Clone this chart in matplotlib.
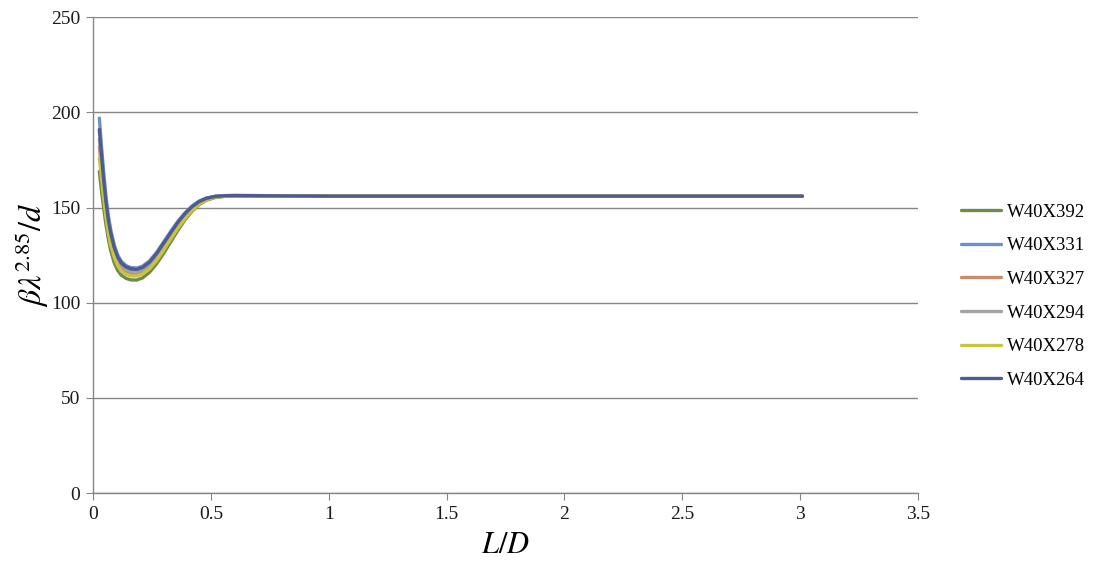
import matplotlib
matplotlib.use("Agg")
import matplotlib.pyplot as plt

plt.rcParams["font.family"] = ["Liberation Serif", "DejaVu Serif"]
plt.rcParams["mathtext.fontset"] = "stix"

# L/D ratios at which the curves are sampled
ld = [0.027, 0.035, 0.045, 0.055, 0.065, 0.075, 0.09, 0.105, 0.12, 0.14,
      0.16, 0.185, 0.21, 0.24, 0.27, 0.30, 0.33, 0.36, 0.39, 0.42,
      0.45, 0.48, 0.52, 0.56, 0.6, 0.7, 0.85, 1.0, 1.5, 2.0, 2.5, 3.01]

w40x392 = [169, 160, 150, 141, 133.5, 127.5, 121, 117, 114.5, 112.8,
           112, 111.9, 113, 116, 120.5, 126, 132, 138, 143.5, 148,
           151.5, 153.8, 155.3, 155.9, 156.1, 156.1, 156, 156, 156, 156, 156, 156]
w40x331 = [197, 184, 169, 156, 146, 138.5, 130.5, 125, 121.8, 119.5,
           118.5, 118.2, 119.2, 122, 126.5, 132, 137.5, 142.8, 147.2, 150.8,
           153.4, 155, 156, 156.3, 156.4, 156.3, 156.1, 156, 156, 156, 156, 156]
w40x327 = [182, 172, 159.5, 148.5, 139.8, 133, 126.2, 121.4, 118.4, 116.5,
           115.5, 115.2, 116.2, 119, 123.5, 129, 134.7, 140.2, 145, 149,
           152.2, 154.3, 155.6, 156, 156.2, 156.1, 156, 156, 156, 156, 156, 156]
w40x294 = [186, 175, 162, 150.5, 141.5, 134.5, 127.5, 122.5, 119.5, 117.5,
           116.5, 116.2, 117.2, 120, 124.5, 130, 135.6, 141, 145.7, 149.6,
           152.6, 154.5, 155.7, 156.1, 156.2, 156.2, 156, 156, 156, 156, 156, 156]
w40x278 = [176, 167, 155.5, 145, 136.8, 130.5, 124, 119.4, 116.6, 114.9,
           114.1, 114, 115, 117.8, 122.2, 127.7, 133.5, 139.2, 144.2, 148.4,
           151.8, 154, 155.5, 156, 156.1, 156.1, 156, 156, 156, 156, 156, 156]
w40x264 = [191, 179, 165, 153, 143.5, 136.5, 129, 124, 120.8, 118.8,
           117.8, 117.5, 118.5, 121.3, 125.8, 131.3, 136.8, 142.2, 146.7, 150.4,
           153.1, 154.8, 155.9, 156.2, 156.3, 156.2, 156.1, 156, 156, 156, 156, 156]

series_names = ["W40X392", "W40X331", "W40X327", "W40X294", "W40X278", "W40X264"]
series_values = [w40x392, w40x331, w40x327, w40x294, w40x278, w40x264]
colors = ["#6E8A4E", "#6A92C4", "#C98B68", "#A3A3A3", "#C9C43C", "#4E5A92"]

x_ticks = [0, 0.5, 1, 1.5, 2, 2.5, 3, 3.5]
x_tick_labels = ["0", "0.5", "1", "1.5", "2", "2.5", "3", "3.5"]
y_ticks = [0, 50, 100, 150, 200, 250]

fig = plt.figure(figsize=(10.94, 5.74), dpi=100)
ax = fig.add_axes([0.085, 0.141, 0.754, 0.829])

for name, vals, c in zip(series_names, series_values, colors):
    ax.plot(ld, vals, color=c, lw=2.4, label=name, solid_capstyle="round",
            solid_joinstyle="round")

ax.set_xlim(0, 3.5)
ax.set_ylim(0, 250)
ax.set_xticks(x_ticks)
ax.set_xticklabels(x_tick_labels)
ax.set_yticks(y_ticks)
ax.yaxis.grid(True, color="#868686", lw=1)
ax.set_axisbelow(True)
for s in ("top", "right"):
    ax.spines[s].set_visible(False)
for s in ("left", "bottom"):
    ax.spines[s].set_color("#868686")
    ax.spines[s].set_linewidth(1)
ax.tick_params(axis="both", direction="out", length=5, color="#868686",
               labelsize=14, labelcolor="#1a1a1a", pad=4)

ax.set_xlabel(r"$L/D$", fontsize=22, labelpad=6)
ax.set_ylabel(r"$\beta\lambda^{2.85}/d$", fontsize=23, labelpad=0)

leg = fig.legend(loc="center left", bbox_to_anchor=(0.863, 0.484),
                 frameon=False, fontsize=13.5, handlelength=2.15,
                 handletextpad=0.3, labelspacing=0.88)
for line in leg.get_lines():
    line.set_linewidth(2.4)

fig.savefig("out.png", dpi=100)
